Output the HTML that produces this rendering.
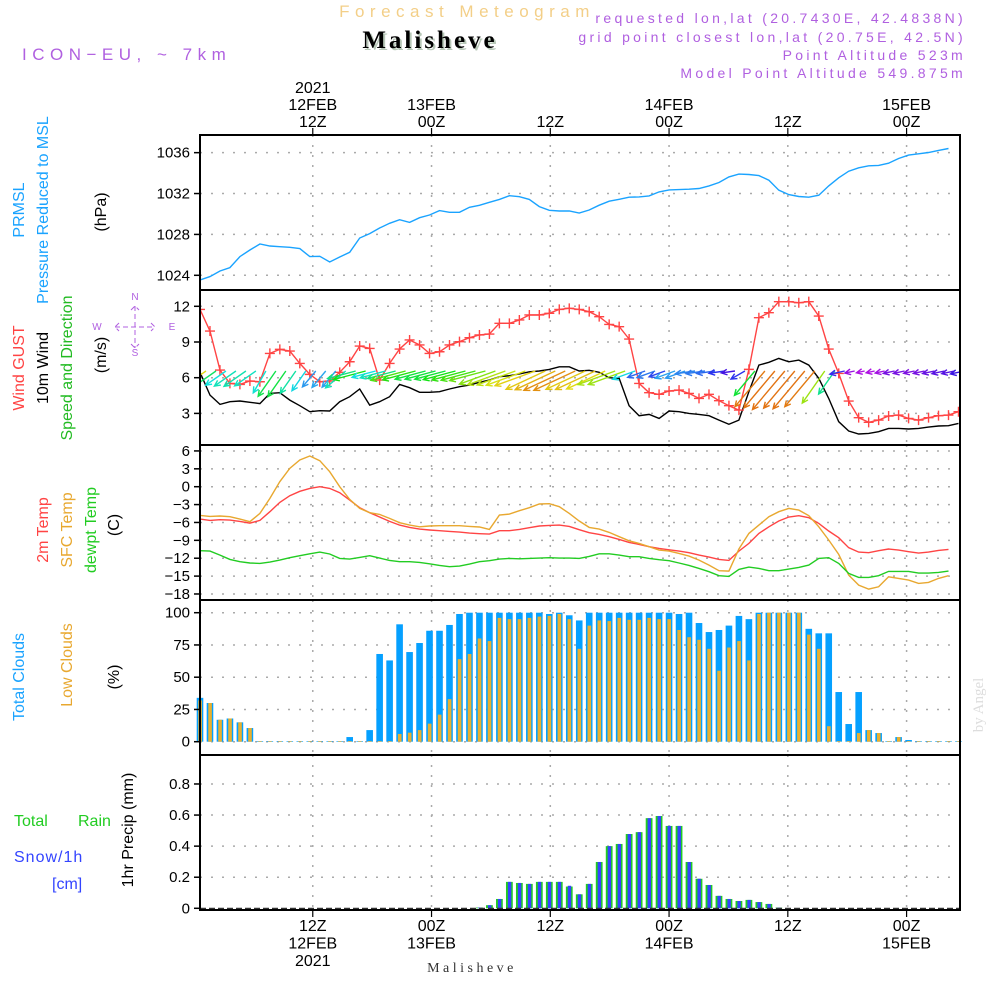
<!DOCTYPE html>
<html><head><meta charset="utf-8"><style>
html,body{margin:0;padding:0;background:#fff;}
svg{display:block;font-family:"Liberation Sans",sans-serif;}
</style></head><body>
<svg id="chart" width="1000" height="1000" viewBox="0 0 1000 1000" xmlns="http://www.w3.org/2000/svg">
<rect width="1000" height="1000" fill="#fff"/>
<text x="467" y="17" text-anchor="middle" font-size="17" fill="#f3cf88" letter-spacing="5.5">Forecast Meteogram</text>
<text x="432" y="50" text-anchor="middle" font-size="25" font-weight="bold" font-family="Liberation Serif,serif" fill="#b8c8b8" letter-spacing="3">Malisheve</text>
<text x="430" y="48" text-anchor="middle" font-size="25" font-weight="bold" font-family="Liberation Serif,serif" fill="#000" letter-spacing="3">Malisheve</text>
<text x="22" y="60" font-size="17" fill="#b060e0" letter-spacing="5.5">ICON−EU, ~ 7km</text>
<g font-size="14" fill="#b060e0" text-anchor="end" letter-spacing="3.3">
<text x="966" y="23">requested lon,lat (20.7430E, 42.4838N)</text>
<text x="966" y="42">grid point closest lon,lat (20.75E, 42.5N)</text>
<text x="966" y="60">Point Altitude 523m</text>
<text x="966" y="78">Model Point Altitude 549.875m</text>
</g>
<text transform="translate(983,705) rotate(-90)" text-anchor="middle" font-size="15" font-family="Liberation Serif,serif" fill="#ddd">by Angel</text>
<g id="g"></g>
</svg>
<script>
// ---------- data (hourly, index h=0..76) ----------
const pressure=[1023.54,1023.87,1024.42,1024.75,1025.83,1026.48,1027.06,1026.87,1026.80,1026.74,1026.61,1025.83,1025.86,1025.30,1025.79,1026.25,1027.65,1028.08,1028.63,1029.09,1029.44,1029.18,1029.64,1029.90,1030.33,1030.16,1030.16,1030.65,1030.85,1031.14,1031.43,1031.79,1031.69,1031.43,1030.72,1030.36,1030.29,1030.29,1030.10,1030.39,1030.86,1031.25,1031.44,1031.64,1031.67,1031.77,1032.16,1032.36,1032.39,1032.42,1032.49,1032.75,1033.08,1033.63,1033.90,1033.86,1033.76,1033.31,1032.33,1031.90,1031.71,1031.64,1031.84,1032.75,1033.54,1034.19,1034.52,1034.71,1034.75,1034.97,1035.43,1035.76,1035.89,1036.02,1036.22,1036.41];
const gust=[11.74,9.92,6.64,5.52,5.44,5.72,5.66,8.04,8.38,8.24,7.20,6.28,5.66,5.72,6.45,7.34,8.66,8.46,5.80,7.20,8.41,9.17,8.75,8.04,8.18,8.75,9.03,9.36,9.59,9.67,10.57,10.57,10.85,11.27,11.27,11.41,11.74,11.83,11.74,11.55,11.13,10.48,10.29,9.25,5.52,4.74,4.60,4.88,4.96,4.68,4.26,4.60,4.07,3.65,3.28,6.70,11.04,11.46,12.39,12.39,12.30,12.39,11.18,8.41,6.36,4.04,2.64,2.25,2.44,2.78,2.86,2.58,2.44,2.64,2.81,2.86,3.14];
const wind=[6.45,4.54,3.76,3.98,4.04,3.93,3.82,4.68,4.74,4.12,3.65,3.14,3.23,3.20,3.98,4.40,5.05,3.70,3.98,4.40,5.44,5.16,4.77,4.77,4.82,5.05,5.24,5.38,5.61,5.80,6.08,6.17,6.31,6.50,6.56,6.70,6.92,6.92,6.56,6.62,6.45,6.0,5.94,3.65,2.81,2.92,2.58,3.20,3.14,3.00,2.92,2.81,2.44,2.08,2.44,4.82,7.06,7.29,7.62,7.34,7.48,7.06,5.94,4.26,2.30,1.52,1.27,1.32,1.46,1.74,1.74,1.69,1.74,1.85,1.94,1.97,2.16];
const windDir=[55,55,55,55,55,55,30,35,35,35,35,40,40,40,50,75,75,75,75,75,75,75,75,75,75,75,75,75,75,70,70,70,70,70,65,65,65,65,65,65,65,70,70,70,70,70,70,70,70,82,82,82,82,82,60,40,40,40,40,40,40,40,35,35,78,78,78,78,78,78,78,78,78,78,78,78,78];
const temp2m=[-5.43,-5.65,-5.54,-5.60,-5.82,-6.10,-5.65,-4.20,-2.63,-1.51,-0.78,-0.28,0,-0.28,-1.01,-2.24,-3.53,-4.36,-5.09,-5.82,-6.44,-6.83,-7.11,-7.27,-7.39,-7.50,-7.61,-7.78,-7.89,-7.95,-7.39,-7.39,-7.16,-6.88,-6.60,-6.49,-6.44,-6.66,-7.22,-7.72,-8.00,-8.39,-8.84,-9.35,-9.68,-10.07,-10.35,-10.58,-10.80,-11.08,-11.47,-11.81,-12.20,-12.37,-10.80,-9.51,-7.83,-6.72,-5.76,-5.09,-4.87,-5.20,-6.16,-7.44,-8.56,-10.24,-10.97,-11.08,-10.74,-10.46,-10.63,-10.91,-11.14,-10.97,-10.69,-10.52];
const tempSfc=[-4.81,-4.98,-4.92,-5.04,-5.43,-5.88,-4.48,-1.96,0.84,3.08,4.48,5.15,4.36,2.52,0,-2.13,-3.64,-4.36,-4.64,-5.32,-6.04,-6.44,-6.72,-6.60,-6.55,-6.55,-6.55,-6.66,-6.77,-7.16,-4.76,-4.59,-4.03,-3.53,-2.91,-2.85,-3.36,-4.48,-5.76,-6.83,-7.11,-7.67,-8.39,-9.07,-9.51,-10.07,-10.63,-10.80,-11.19,-11.64,-12.31,-13.15,-14.10,-14.16,-10.46,-7.83,-6.44,-5.04,-4.20,-3.64,-3.92,-4.87,-6.72,-8.95,-11.36,-14.83,-16.51,-17.18,-16.79,-15.11,-15.39,-15.67,-16.23,-16.06,-15.39,-14.94];
const dewpt=[-10.74,-10.80,-11.47,-12.20,-12.59,-12.81,-12.87,-12.65,-12.31,-11.92,-11.58,-11.25,-10.97,-11.30,-12.03,-12.14,-11.86,-11.58,-11.98,-12.37,-12.59,-12.59,-12.70,-12.93,-13.21,-13.43,-13.32,-12.98,-12.59,-12.42,-12.14,-12.03,-12.09,-12.03,-11.98,-11.92,-11.98,-11.98,-12.03,-11.70,-11.25,-11.25,-11.47,-11.75,-11.75,-12.03,-12.25,-12.42,-12.81,-13.21,-13.71,-14.27,-14.94,-15.05,-13.88,-13.49,-13.71,-14.10,-14.10,-13.82,-13.54,-13.15,-12.03,-11.92,-12.87,-14.55,-15.22,-15.22,-14.94,-14.21,-14.21,-14.21,-14.49,-14.49,-14.38,-14.16];
const totalClouds=[34,30,17,18,15,10.6,0.5,0.5,0.5,0.5,0.5,0.5,0.5,0.5,0.5,3.6,0.5,9,68,63,91,69.5,76.5,86,86,90.5,99,100,100,100,100,100,100,100,100,99,100,98,94,100,100,100,100,100,100,100,100,100,99,100,92,85,86.6,90,97.5,95,100,100,100,100,100,87.5,84,84,38.5,13.7,38.5,9,6.7,0.5,3.6,1.3,0.5,0.5,0.5,0.5,0.5];
const lowClouds=[32,30,17,18,15,10.6,0.5,0.5,0.5,0.5,0.5,0.5,0.5,0.5,0.5,0.5,0.5,0.5,0.5,0.5,6,7,9,14,21,33,64,68,80,78,96,95,95,96,97,97.5,99,95,72,90,94,93.5,96,94.5,94.5,96,95,95,86.6,81,79,72,55,73,78,63,99,100,100,100,100,83,72,12,0.5,0.5,6.7,9,6.7,0.5,3.6,0.5,0.5,0.5,0.5,0.5,0.5];
const precipHours=[28,29,30,31,32,33,34,35,36,37,38,39,40,41,42,43,44,45,46,47,48,49,50,51,52,53,54,55,56,57,58];
const rain=[0.005,0.02,0.06,0.17,0.163,0.157,0.17,0.17,0.17,0.14,0.09,0.157,0.298,0.40,0.414,0.478,0.49,0.58,0.594,0.53,0.53,0.298,0.19,0.15,0.08,0.06,0.047,0.054,0.04,0.028,0.004];
const snow=[0.005,0.02,0.06,0.17,0.163,0.157,0.17,0.17,0.17,0.145,0.09,0.157,0.298,0.40,0.414,0.478,0.49,0.58,0.594,0.53,0.53,0.298,0.19,0.15,0.08,0.06,0.047,0.054,0.04,0.028,0.004];
const timeTickHours=[11.3,23.2,35.1,47.0,58.9,70.8];
const topLabels=[["2021","12FEB","12Z"],["","13FEB","00Z"],["","","12Z"],["","14FEB","00Z"],["","","12Z"],["","15FEB","00Z"]];
const bottomLabels=[["12Z","12FEB","2021"],["00Z","13FEB",""],["12Z","",""],["00Z","14FEB",""],["12Z","",""],["00Z","15FEB",""]];
const pTicks=[1024,1028,1032,1036];
const wTicks=[3,6,9,12];
const tTicks=[6,3,0,-3,-6,-9,-12,-15,-18];
const cTicks=[0,25,50,75,100];
const rTicks=[0,0.2,0.4,0.6,0.8];

// ---------- scales ----------
const X0=200,X1=960;
const xH=h=>200+h*9.98;
const yP=v=>275.3-(v-1024)*10.22;
const yW=v=>377.7-(v-6)*11.9;
const yT=v=>486.7-v*5.96;
const yC=v=>741.7-v*1.29;
const yR=v=>908.3-v*155.4;
const panels=[[135,290],[290,445],[445,600],[600,755],[755,910]];

const NS="http://www.w3.org/2000/svg";
const G=document.getElementById('g');
function el(tag,attrs,parent,txt){const e=document.createElementNS(NS,tag);for(const k in attrs)e.setAttribute(k,attrs[k]);if(txt!==undefined)e.textContent=txt;(parent||G).appendChild(e);return e;}

// grids
const grid=el('g',{});


function hgrid(ys){ys.forEach(y=>{const l=el('line',{x1:X0,x2:X1,y1:y,y2:y,stroke:'#aaa','stroke-width':1.5,'stroke-dasharray':'2,9'},grid);});}
hgrid(pTicks.map(yP));hgrid(wTicks.map(yW));hgrid(tTicks.map(yT));hgrid(cTicks.map(yC));hgrid(rTicks.slice(1).map(yR));
timeTickHours.forEach(h=>{panels.forEach(p=>{const l=el('line',{x1:xH(h),x2:xH(h),y1:p[0],y2:p[1],stroke:'#aaa','stroke-width':1.5,'stroke-dasharray':'2,8'},grid);});});

// clip
const defs=el('defs',{});
const cp=el('clipPath',{id:'clip'},defs);el('rect',{x:X0,y:135,width:X1-X0,height:775},cp);

function line(arr,yf,color,name,w){const pts=arr.map((v,i)=>xH(i).toFixed(1)+','+yf(v).toFixed(1)).join(' ');const p=el('polyline',{points:pts,fill:'none',stroke:color,'stroke-width':w||1.4,'clip-path':'url(#clip)'});return p;}

// pressure
line(pressure,yP,'#1aa3ff','pressure-line');
// wind
line(wind,yW,'#000','wind-speed-line');
line(gust,yW,'#ff4444','wind-gust-line');
const gm=el('g',{stroke:'#ff4444','stroke-width':1.4,'clip-path':'url(#clip)'});


gust.forEach((v,i)=>{const x=xH(i),y=yW(v);const p=el('path',{d:`M${x-5},${y}H${x+5}M${x},${y-5}V${y+5}`},gm);});
// wind arrows
function spdColor(s){let h=280-(s-1.5)*45;if(h<28)h=28;if(h>285)h=285;return `hsl(${h},85%,${h>200&&h<250?55:48}%)`;}
const ag=el('g',{'stroke-width':1.4,fill:'none','clip-path':'url(#clip)'});


wind.forEach((s,i)=>{const a=(90-windDir[i])*Math.PI/180;const L=s*6.6;const x=xH(i)+6,y=371;const dx=-Math.cos(a),dy=Math.sin(a);const hx=x+dx*L,hy=y+dy*L;const c=spdColor(s);
const b1=a+0.45,b2=a-0.45;const hl=6.5;
const d=`M${x},${y}L${hx},${hy}M${hx+Math.cos(b1)*hl},${hy-Math.sin(b1)*hl}L${hx},${hy}L${hx+Math.cos(b2)*hl},${hy-Math.sin(b2)*hl}`;
const p=el('path',{d:d,stroke:c},ag);});
// temps
line(temp2m,yT,'#ff4444','temp-2m-line');
line(tempSfc,yT,'#e8a830','temp-sfc-line');
line(dewpt,yT,'#22cc22','dewpoint-line');
// clouds
const cg=el('g',{});


totalClouds.forEach((v,i)=>{const x=xH(i);const r=el('rect',{x:x-3.3,y:yC(v),width:6.6,height:yC(0)-yC(v),fill:'#05a0ff'},cg);});
lowClouds.forEach((v,i)=>{const x=xH(i);const r=el('rect',{x:x-1.7,y:yC(v),width:3.6,height:yC(0)-yC(v),fill:'#e8b030'},cg);});
// precip
const rg=el('g',{});


precipHours.forEach((h,i)=>{const x=xH(h);const r=el('rect',{x:x-3.4,y:yR(rain[i]),width:6.8,height:yR(0)-yR(rain[i]),fill:'#22cc22'},rg);
const s=el('rect',{x:x-1.5,y:yR(snow[i]),width:3.4,height:yR(0)-yR(snow[i]),fill:'#3344ff'},rg);});
el('line',{x1:X0,x2:X1,y1:908.5,y2:908.5,stroke:'#333','stroke-width':1.5,'stroke-dasharray':'6,3'});

// frames
panels.forEach((p,k)=>{const r=el('rect',{x:X0,y:p[0],width:X1-X0,height:p[1]-p[0],fill:'none',stroke:'#000','stroke-width':2});});

// y ticks
function yticks(ticks,yf,fmt,name){const g=el('g',{'font-size':15,'text-anchor':'end',fill:'#000'});ticks.forEach(v=>{const y=yf(v);el('line',{x1:X0-6,x2:X0,y1:y,y2:y,stroke:'#000','stroke-width':1.5},g);el('text',{x:X0-10,y:y+5},g,fmt(v));});}
yticks(pTicks,yP,v=>v,'pressure-y-ticks');
yticks(wTicks,yW,v=>v,'wind-y-ticks');
yticks(tTicks,yT,v=>v<0?'−'+(-v):v,'temp-y-ticks');
yticks(cTicks,yC,v=>v,'cloud-y-ticks');
yticks(rTicks,yR,v=>v===0?'0':v.toFixed(1),'precip-y-ticks');

// time labels
const tl=el('g',{'font-size':16,'text-anchor':'middle',fill:'#000'});


timeTickHours.forEach((h,i)=>{const x=xH(h);topLabels[i].forEach((s,j)=>{if(s)el('text',{x:x,y:93+j*17},tl,s);});
bottomLabels[i].forEach((s,j)=>{if(s)el('text',{x:x,y:931+j*17.5},tl,s);});
el('line',{x1:x,x2:x,y1:128,y2:135,stroke:'#000','stroke-width':1.2},tl);el('line',{x1:x,x2:x,y1:910,y2:917,stroke:'#000','stroke-width':1.2},tl);});
el('text',{x:472,y:972,'text-anchor':'middle','font-size':14,'font-family':'Liberation Serif,serif',fill:'#333','letter-spacing':3.5},tl,'Malisheve');

// rotated labels
function rlab(x,y,txt,color,name){const t=el('text',{transform:`translate(${x},${y}) rotate(-90)`,'text-anchor':'middle','font-size':16,fill:color},G,txt);}
rlab(24,210,'PRMSL','#1aa3ff','prmsl-label');
rlab(48,210,'Pressure Reduced to MSL','#1aa3ff','pressure-label');
rlab(106,212,'(hPa)','#000','hpa-label');
rlab(24,368,'Wind GUST','#ff4444','gust-label');
rlab(48,368,'10m Wind','#000','wind-label');
rlab(72,368,'Speed and Direction','#22bb22','direction-label');
rlab(106,355,'(m/s)','#000','ms-label');
rlab(48,530,'2m Temp','#ff4444','temp2m-label');
rlab(72,530,'SFC Temp','#e8a830','sfc-temp-label');
rlab(96,530,'dewpt Temp','#22cc22','dewpt-label');
rlab(119,525,'(C)','#000','celsius-label');
rlab(24,677,'Total Clouds','#1aa3ff','total-clouds-label');
rlab(72,665,'Low Clouds','#e8a830','low-clouds-label');
rlab(119,677,'(%)','#000','percent-label');
rlab(133,830,'1hr Precip (mm)','#000','precip-label');
const lg=el('g',{'font-size':16});


el('text',{x:14,y:826,fill:'#22cc22'},lg,'Total');
el('text',{x:78,y:826,fill:'#22cc22'},lg,'Rain');
el('text',{x:14,y:862,fill:'#3344ff','letter-spacing':1}, lg,'Snow/1h');
el('text',{x:52,y:889,fill:'#3344ff'},lg,'[cm]');
// compass
const cmp=el('g',{fill:'#b060e0','font-size':10,'text-anchor':'middle'});


el('text',{x:135,y:300},cmp,'N');el('text',{x:135,y:356},cmp,'S');el('text',{x:97,y:330},cmp,'W');el('text',{x:172,y:330},cmp,'E');
el('path',{d:'M115,327H155M135,306V348M119,323L115,327L119,331M151,323L155,327L151,331M131,310L135,306L139,310M131,344L135,348L139,344',stroke:'#b060e0','stroke-width':1,fill:'none','stroke-dasharray':'5,3'},cmp);
</script>
</body></html>
